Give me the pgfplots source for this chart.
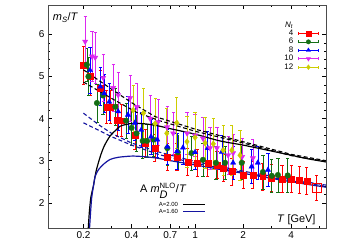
\documentclass[border=0pt]{standalone}
\usepackage{fontspec}
\setmainfont{Liberation Sans}
\usepackage{pgfplots}
\pgfplotsset{compat=1.18}
\definecolor{cred}{RGB}{255,0,0}
\definecolor{cgreen}{RGB}{20,110,20}
\definecolor{cblue}{RGB}{0,0,255}
\definecolor{cmag}{RGB}{220,40,240}
\definecolor{cyel}{RGB}{205,205,0}
\definecolor{cnavy}{RGB}{20,20,160}
\pgfplotsset{
  nleg/.style={legend image code/.code={
    \draw[##1,mark=none,line width=0.6pt] (0cm,0cm)--(0.7cm,0cm) (0cm,-1.5pt)--(0cm,1.5pt) (0.7cm,-1.5pt)--(0.7cm,1.5pt);
    \draw[##1] plot coordinates {(0.35cm,0cm)};}},
  ebar/.style={only marks, error bars/y dir=both, error bars/y explicit,
    error bars/error bar style={line width=0.6pt}, error bars/error mark options={rotate=90, mark size=1.6pt, line width=0.6pt}}
}
\begin{document}
\begin{tikzpicture}[x=1bp,y=1bp]
\path[use as bounding box] (-48,-24) rectangle (312,228);
\begin{axis}[
  scale only axis, width=278bp, height=223bp,
  at={(0,0)}, anchor=south west,
  xmode=log, xmin=0.12, xmax=6.6, ymin=1.4, ymax=6.7,
  xtick={0.2,0.4,0.7,1,2,4}, xticklabels={0.2,0.4,0.7,1,2,4},
  minor xtick={0.3,0.5,0.6,0.8,0.9,3,5,6},
  ytick={2,3,4,5,6}, minor y tick num=4,
  tick align=inside, major tick length=4bp, minor tick length=2bp,
  tick style={black, line width=0.5pt},
  axis line style={line width=0.8pt, black!70},
  /pgf/number format/assume math mode=true,
  ticklabel style={font=\fontsize{10}{12}\selectfont},
  clip=true,
  legend style={draw=none, fill=none, at={(rel axis cs:0.985,0.94)}, anchor=north east,
    font=\fontsize{8}{8.5}\selectfont, row sep=-0.6pt, column sep=4pt, legend cell align=right,
    nodes={inner sep=1pt}},
  legend plot pos=right,
]
% --- data: Nt=4
\addplot[ebar, cred, mark=square*, mark size=3pt, forget plot] table[x=x,y=y,y error=e] {
x y e
0.200 5.27 0.45
0.220 5.00 0.45
0.255 4.73 0.42
0.280 4.28 0.40
0.294 4.28 0.40
0.325 3.97 0.38
0.345 3.95 0.38
0.420 3.61 0.35
0.487 3.42 0.33
0.560 3.30 0.32
0.668 3.09 0.32
0.770 3.09 0.32
0.900 2.97 0.32
1.030 2.95 0.32
1.200 2.95 0.32
1.370 2.90 0.32
1.500 2.83 0.32
1.700 2.74 0.32
2.000 2.66 0.32
2.300 2.66 0.32
2.650 2.62 0.32
3.000 2.59 0.32
3.500 2.56 0.32
4.000 2.56 0.32
4.500 2.54 0.32
5.000 2.52 0.32
};
\addplot[ebar, cred, mark=square, mark size=4.5pt, mark options={line width=0.8pt}, forget plot] table[x=x,y=y,y error=e] {
x y e
5.760 2.36 0.30
};
% --- Nt=6
\addplot[ebar, cgreen, mark=*, mark size=2.8pt, forget plot] table[x=x,y=y,y error=e] {
x y e
0.210 5.28 0.40
0.215 5.00 0.45
0.243 4.37 0.45
0.265 4.55 0.45
0.317 4.28 0.45
0.370 3.95 0.42
0.400 3.78 0.42
0.430 3.65 0.42
0.470 3.47 0.42
0.500 3.47 0.40
0.550 3.50 0.40
0.670 3.30 0.40
0.780 3.20 0.40
0.950 3.18 0.40
1.120 3.02 0.40
1.350 2.95 0.40
1.540 2.95 0.40
1.960 2.95 0.40
2.660 2.73 0.40
3.020 2.64 0.40
3.300 2.66 0.40
3.800 2.65 0.40
};
% --- Nt=8
\addplot[ebar, cblue, mark=triangle*, mark size=3pt, forget plot] table[x=x,y=y,y error=e] {
x y e
0.220 5.15 0.55
0.255 4.76 0.45
0.270 4.60 0.45
0.290 4.40 0.45
0.330 4.17 0.45
0.380 4.09 0.45
0.420 3.90 0.42
0.460 3.73 0.42
0.530 3.57 0.42
0.580 3.50 0.42
0.670 3.33 0.42
0.770 3.22 0.42
0.840 3.31 0.40
1.000 3.20 0.40
1.200 3.30 0.40
1.470 3.21 0.40
1.730 2.95 0.40
2.260 2.86 0.40
2.470 2.95 0.40
2.860 2.78 0.40
};
% --- Nt=10
\addplot[ebar, cmag, mark=triangle*, mark options={rotate=180}, mark size=3pt, forget plot] table[x=x,y=y,y error=e] {
x y e
0.205 5.83 0.60
0.226 5.48 0.60
0.237 5.45 0.60
0.266 4.97 0.55
0.307 4.73 0.55
0.330 4.56 0.55
0.392 4.49 0.55
0.432 4.28 0.55
0.523 4.00 0.55
0.587 3.92 0.55
0.668 3.80 0.50
0.729 3.65 0.50
0.891 3.65 0.50
1.000 3.60 0.50
1.120 3.53 0.50
1.240 3.30 0.50
1.370 3.30 0.50
1.610 3.13 0.45
1.730 3.18 0.45
1.970 3.09 0.45
2.300 3.06 0.45
};
% --- Nt=12
\addplot[ebar, cyel, mark=diamond*, mark size=3pt, forget plot] table[x=x,y=y,y error=e] {
x y e
0.410 4.20 0.60
0.475 4.13 0.60
0.562 3.88 0.60
0.665 3.65 0.60
0.768 3.90 0.60
0.890 3.45 0.60
1.000 3.55 0.60
1.155 3.42 0.60
1.300 3.40 0.60
1.500 3.25 0.60
1.700 3.25 0.60
1.910 3.13 0.60
};
% --- curves
\addplot[black, line width=1.1pt, dash pattern=on 4pt off 2.5pt, forget plot] table {
0.2 5.16
0.3 4.70
0.4 4.38
0.56 4.05
1.0 3.75
2.0 3.45
4.0 3.15
6.6 3.00
};
\addplot[black, line width=1.1pt, dash pattern=on 4pt off 2.5pt, forget plot] table {
0.2 4.87
0.31 4.45
0.43 4.15
0.6 3.95
1.0 3.70
2.0 3.42
4.0 3.12
6.6 2.98
};
\addplot[cnavy, line width=1.1pt, dash pattern=on 4pt off 2.5pt, forget plot] table {
0.2 4.13
0.25 3.85
0.3 3.65
0.4 3.42
0.6 3.20
1.0 2.98
2.0 2.75
4.0 2.55
6.6 2.42
};
\addplot[cnavy, line width=1.1pt, dash pattern=on 4pt off 2.5pt, forget plot] table {
0.2 3.90
0.25 3.72
0.3 3.57
0.4 3.37
0.6 3.14
1.0 2.94
2.0 2.72
4.0 2.52
6.6 2.39
};
\addplot[black, line width=1.2pt, smooth, forget plot] table {
0.2145 1.40
0.218 1.80
0.223 2.15
0.231 2.40
0.240 2.75
0.255 3.10
0.270 3.35
0.294 3.59
0.320 3.73
0.340 3.82
0.380 3.87
0.420 3.89
0.500 3.87
0.600 3.82
0.700 3.76
1.000 3.63
1.430 3.47
2.000 3.37
3.000 3.23
4.000 3.13
5.000 3.05
6.600 2.97
};
\addplot[cnavy, line width=1.2pt, smooth, forget plot] table {
0.2185 1.40
0.221 1.70
0.225 2.10
0.230 2.35
0.237 2.63
0.250 2.80
0.270 2.93
0.294 3.03
0.330 3.08
0.370 3.10
0.410 3.11
0.500 3.09
0.600 3.05
0.700 3.00
1.000 2.90
1.500 2.78
2.000 2.70
3.000 2.58
4.000 2.50
5.000 2.44
6.600 2.37
};
% --- legend
\addlegendimage{empty legend}\addlegendentry{\textit{N}\textsubscript{\textit{t}}}
\addlegendimage{nleg, cred, mark=square*, mark size=2.5pt}\addlegendentry{4}
\addlegendimage{nleg, cgreen, mark=*, mark size=2.2pt}\addlegendentry{6}
\addlegendimage{nleg, cblue, mark=triangle*, mark size=2.4pt}\addlegendentry{8}
\addlegendimage{nleg, cmag, mark=triangle*, mark options={rotate=180}, mark size=2.4pt}\addlegendentry{10}
\addlegendimage{nleg, cyel, mark=diamond*, mark size=2.4pt}\addlegendentry{12}
% --- labels
\node[anchor=base west, font=\fontsize{11}{12}\selectfont] at (rel axis cs:0.005,0.93) {\textit{m}\textsubscript{\textit{S}}/\textit{T}};
\node[anchor=base east, font=\fontsize{11}{12}\selectfont] at (rel axis cs:0.975,0.025) {\textit{T} [GeV]};
\node[anchor=base west, inner sep=0pt, font=\fontsize{11}{12}\selectfont] at (rel axis cs:0.331,0.158) {A \textit{m}$_{\textit{D}}^{\mathrm{NLO}}$/\textit{T}};
\node[anchor=base east, inner sep=0pt, font=\fontsize{6}{6}\selectfont] at (rel axis cs:0.468,0.096) {A=2.00};
\node[anchor=base east, inner sep=0pt, font=\fontsize{6}{6}\selectfont] at (rel axis cs:0.468,0.066) {A=1.60};
\draw[black, line width=1.1pt] (rel axis cs:0.486,0.106) -- (rel axis cs:0.565,0.106);
\draw[cnavy, line width=1.1pt] (rel axis cs:0.486,0.076) -- (rel axis cs:0.565,0.076);
\end{axis}
\end{tikzpicture}
\end{document}
